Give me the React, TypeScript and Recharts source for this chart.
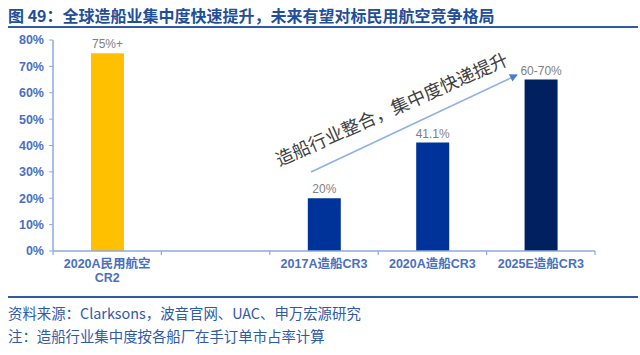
import React from "react";
import { BarChart, Bar, XAxis, YAxis, Cell, LabelList } from "recharts";

const categories = ["2020A民用航空\nCR2", "", "2017A造船CR3", "2020A造船CR3", "2025E造船CR3"];
const values: (number | null)[] = [75, null, 20, 41.1, 65];
const valueLabels = ["75%+", "", "20%", "41.1%", "60-70%"];
const barColors = ["#FFC000", "#FFFFFF", "#003399", "#003399", "#002060"];
const yTicks = [0, 10, 20, 30, 40, 50, 60, 70, 80];

const title = "图 49：全球造船业集中度快速提升，未来有望对标民用航空竞争格局";
const sourceText = "资料来源：Clarksons，波音官网、UAC、申万宏源研究";
const noteText = "注：造船行业集中度按各船厂在手订单市占率计算";
const annotation = "造船行业整合，集中度快递提升";

const data = categories.map((c, i) => ({ name: c, value: values[i], label: valueLabels[i] }));

const FONT = "'Liberation Sans', Arial, 'Noto Sans CJK SC', sans-serif";
const CJK = "'Noto Sans CJK SC', 'Liberation Sans', sans-serif";
const TICK_BLUE = "#4A6FBF";
const AXIS_BLUE = "#8EAADB";

const PLOT_W = 542;
const N = categories.length;

const XTick = (props: any) => {
  const { x, y, payload, index } = props;
  const half = PLOT_W / N / 2;
  const lines = String(payload.value).split("\n");
  return (
    <g>
      <line x1={x - half} x2={x - half} y1={y} y2={y + 4} stroke={AXIS_BLUE} strokeWidth={1.2} />
      {index === N - 1 && (
        <line x1={x + half} x2={x + half} y1={y} y2={y + 4} stroke={AXIS_BLUE} strokeWidth={1.2} />
      )}
      {lines.map((l, i) => (
        <text
          key={i}
          x={x}
          y={y + 17 + i * 14}
          textAnchor="middle"
          fill={TICK_BLUE}
          fontSize={12.5}
          fontWeight="bold"
          fontFamily={FONT}
        >
          {l}
        </text>
      ))}
    </g>
  );
};

export default function App() {
  return (
    <div style={{ position: "fixed", left: 0, top: 0, width: 640, height: 355, background: "#fff", overflow: "hidden" }}>
      <div
        style={{
          position: "absolute",
          left: 8,
          top: 5,
          fontFamily: CJK,
          fontSize: 16,
          fontWeight: "bold",
          color: "#1F4E9A",
          whiteSpace: "nowrap",
          lineHeight: "20px",
        }}
      >
        {title}
      </div>
      <div style={{ position: "absolute", left: 8, top: 26, width: 630, height: 2, background: "#2E5AA8" }} />
      <BarChart
        width={640}
        height={355}
        data={data}
        margin={{ top: 40, right: 45, bottom: 74, left: 0 }}
        barCategoryGap="0%"
      >
        <XAxis
          dataKey="name"
          interval={0}
          tickLine={false}
          tickSize={0}
          tickMargin={0}
          height={30}
          axisLine={{ stroke: AXIS_BLUE, strokeWidth: 1.5 }}
          tick={<XTick />}
        />
        <YAxis
          width={53}
          domain={[0, 80]}
          ticks={yTicks}
          tickFormatter={(v: number) => `${v}%`}
          axisLine={{ stroke: AXIS_BLUE, strokeWidth: 1.5 }}
          tickLine={{ stroke: AXIS_BLUE }}
          tickSize={4}
          tickMargin={5}
          tick={{ fill: TICK_BLUE, fontSize: 12.5, fontWeight: "bold", fontFamily: FONT }}
        />
        <Bar dataKey="value" barSize={33} isAnimationActive={false}>
          {data.map((d, i) => (
            <Cell key={i} fill={barColors[i]} />
          ))}
          <LabelList dataKey="label" position="top" offset={5} fill="#808080" fontSize={12} fontFamily={FONT} />
        </Bar>
      </BarChart>
      <svg width={640} height={355} style={{ position: "absolute", left: 0, top: 0, pointerEvents: "none" }}>
        <defs>
          <marker id="arr" markerWidth="8" markerHeight="8" refX="7" refY="4" orient="auto" markerUnits="userSpaceOnUse">
            <path d="M0,0 L8,4 L0,8 z" fill="#4A7CD0" />
          </marker>
        </defs>
        <line x1={311} y1={172} x2={517} y2={75} stroke="#8FB0E3" strokeWidth={1.5} markerEnd="url(#arr)" />
        <text
          x={391}
          y={108}
          transform="rotate(-24 391 108)"
          textAnchor="middle"
          dominantBaseline="central"
          fontFamily={CJK}
          fontSize={18}
          fill="#404040"
        >
          {annotation}
        </text>
      </svg>
      <div style={{ position: "absolute", left: 8, top: 296, width: 630, height: 2, background: "#2E5AA8" }} />
      <div style={{ position: "absolute", left: 8, top: 303, fontFamily: CJK, fontSize: 14.4, color: "#2E5AA8", whiteSpace: "nowrap", lineHeight: "20px" }}>
        {sourceText}
      </div>
      <div style={{ position: "absolute", left: 8, top: 326, fontFamily: CJK, fontSize: 14.4, color: "#2E5AA8", whiteSpace: "nowrap", lineHeight: "20px" }}>
        {noteText}
      </div>
    </div>
  );
}
